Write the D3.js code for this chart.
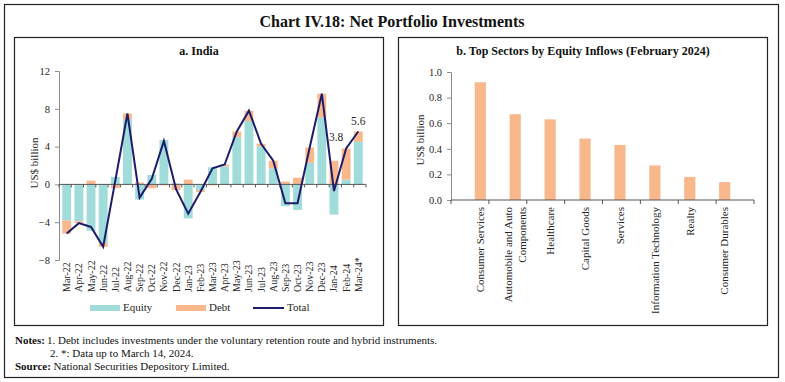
<!DOCTYPE html>
<html>
<head>
<meta charset="utf-8">
<script src="https://cdn.jsdelivr.net/npm/d3@7"></script>
<style>
  body { margin: 0; background: #fff; }
  svg { display: block; font-family: "Liberation Serif", "Times New Roman", serif; }
</style>
</head>
<body>
<div class="graph"></div>
<script>
// data
const months = ["Mar-22","Apr-22","May-22","Jun-22","Jul-22","Aug-22","Sep-22","Oct-22","Nov-22","Dec-22",
  "Jan-23","Feb-23","Mar-23","Apr-23","May-23","Jun-23","Jul-23","Aug-23","Sep-23","Oct-23","Nov-23","Dec-23",
  "Jan-24","Feb-24","Mar-24*"]
const equity = [-3.8,-3.9,-4.9,-6.2,0.8,6.9,-1.6,1.0,4.7,0.1,-3.6,-0.6,1.8,1.9,5.0,6.7,4.0,1.7,-2.3,-2.7,2.3,7.1,-3.2,0.5,4.5]
const debt = [-1.4,-0.2,0.4,-0.4,-0.4,0.6,0.2,-0.4,-0.1,-0.6,0.5,-0.2,-0.1,0.2,0.6,1.1,0.3,0.8,0.3,0.7,1.6,2.5,2.5,3.3,1.1]
const total = [-5.2,-4.1,-4.5,-6.6,0.4,7.5,-1.4,0.6,4.6,-0.5,-3.1,-0.8,1.7,2.1,5.6,7.8,4.3,2.5,-2.0,-2.0,3.9,9.6,-0.7,3.8,5.6]
const leftTicks = [-8,-4,0,4,8,12]

const sectors = ["Consumer Services","Automobile and Auto|Components","Healthcare","Capital Goods","Services",
  "Information Technology","Realty","Consumer Durables"]
const sectorValues = [0.92,0.67,0.63,0.48,0.43,0.27,0.18,0.14]
const rightTicks = [0,0.2,0.4,0.6,0.8,1.0]

const teal = "#a0dcda", peach = "#f9b88c", navy = "#1d1c6b", axisCol = "#8c8c8c", txt = "#262626"

let svg = d3.select('.graph')
  .append('svg')
  .attr("width", 785)
  .attr("height", 382)

// frames
svg.append("rect").attr("x",4.5).attr("y",4.5).attr("width",774).attr("height",373)
  .attr("fill","none").attr("stroke","#222").attr("stroke-width",1.2)
svg.append("rect").attr("x",14.5).attr("y",37.5).attr("width",369).attr("height",288)
  .attr("fill","none").attr("stroke","#222").attr("stroke-width",1.2)
svg.append("rect").attr("x",398.5).attr("y",37.5).attr("width",369).attr("height",288)
  .attr("fill","none").attr("stroke","#222").attr("stroke-width",1.2)

svg.append("text").attr("x",392).attr("y",23).attr("text-anchor","middle").attr("dominant-baseline","middle")
  .attr("font-size",16).attr("font-weight","bold").attr("fill","#111").text("Chart IV.18: Net Portfolio Investments")
svg.append("text").attr("x",199).attr("y",52).attr("text-anchor","middle").attr("dominant-baseline","middle")
  .attr("font-size",12).attr("font-weight","bold").attr("fill","#111").text("a. India")
svg.append("text").attr("x",583).attr("y",52).attr("text-anchor","middle").attr("dominant-baseline","middle")
  .attr("font-size",12).attr("font-weight","bold").attr("fill","#111").text("b. Top Sectors by Equity Inflows (February 2024)")

// ---------- left chart ----------
let x = d3.scaleBand().domain(months).range([59, 366]).padding(0.27)
let y = d3.scaleLinear().domain([-8, 12]).range([260, 71])

let rows = months.map((m, i) => ({month: m, equity: equity[i], debt: debt[i]}))
let series = d3.stack().keys(["equity","debt"]).offset(d3.stackOffsetDiverging)(rows)
let colour = {equity: teal, debt: peach}

svg.append("g").selectAll("g")
  .data(series)
  .enter()
  .append("g")
  .attr("fill", d => colour[d.key])
  .selectAll("rect")
  .data(d => d)
  .enter()
  .append("rect")
  .attr("x", d => x(d.data.month))
  .attr("width", x.bandwidth())
  .attr("y", d => y(Math.max(d[0], d[1])))
  .attr("height", d => Math.abs(y(d[0]) - y(d[1])))

// y axis
let yAxis = svg.append("g").attr("transform","translate(59,0)")
  .call(d3.axisLeft(y).tickValues(leftTicks).tickSize(4).tickPadding(5))
yAxis.select(".domain").attr("stroke", axisCol)
yAxis.selectAll(".tick line").attr("stroke", axisCol)
yAxis.selectAll("text").attr("font-size",10.5).attr("fill",txt).attr("font-family","Liberation Serif")

// zero line with category ticks
svg.append("line").attr("x1",59).attr("x2",366).attr("y1",y(0)).attr("y2",y(0)).attr("stroke","#555")
svg.append("g").selectAll("line")
  .data(months.concat(["end"]))
  .enter()
  .append("line")
  .attr("x1", (d, i) => x.range()[0] + i * (x.range()[1] - x.range()[0]) / months.length)
  .attr("x2", (d, i) => x.range()[0] + i * (x.range()[1] - x.range()[0]) / months.length)
  .attr("y1", y(0)).attr("y2", y(0) + 3)
  .attr("stroke", "#555")

// month labels at bottom
svg.append("g").selectAll("text")
  .data(months)
  .enter()
  .append("text")
  .attr("transform", d => `translate(${x(d) + x.bandwidth()/2 + 3.5},292) rotate(-90)`)
  .attr("text-anchor","start")
  .attr("font-size",10)
  .attr("fill",txt)
  .text(d => d)

// total line
let line = d3.line()
  .x((d, i) => x(months[i]) + x.bandwidth()/2)
  .y(d => y(d))
svg.append("path").datum(total).attr("d", line)
  .attr("fill","none").attr("stroke",navy).attr("stroke-width",2)

// value labels for last two points
svg.append("text").attr("x", x("Feb-24") + x.bandwidth()/2 - 10).attr("y", y(total[23]) - 10)
  .attr("text-anchor","middle").attr("dominant-baseline","middle").attr("font-size",11.5).attr("fill",txt)
  .text(total[23].toFixed(1))
svg.append("text").attr("x", x("Mar-24*") + x.bandwidth()/2).attr("y", y(total[24]) - 9.5)
  .attr("text-anchor","middle").attr("dominant-baseline","middle").attr("font-size",11.5).attr("fill",txt)
  .text(total[24].toFixed(1))

svg.append("text").attr("transform","translate(35,163) rotate(-90)").attr("text-anchor","middle")
  .attr("dominant-baseline","middle").attr("font-size",11).attr("fill",txt).text("US$ billion")

// legend
let legend = svg.append("g")
legend.append("rect").attr("x",90).attr("y",305).attr("width",30).attr("height",6).attr("fill",teal)
legend.append("text").attr("x",123).attr("y",308).attr("dominant-baseline","middle").attr("font-size",11).attr("fill",txt).text("Equity")
legend.append("rect").attr("x",176).attr("y",305).attr("width",30).attr("height",6).attr("fill",peach)
legend.append("text").attr("x",209).attr("y",308).attr("dominant-baseline","middle").attr("font-size",11).attr("fill",txt).text("Debt")
legend.append("line").attr("x1",253).attr("x2",284).attr("y1",308).attr("y2",308).attr("stroke",navy).attr("stroke-width",2)
legend.append("text").attr("x",287).attr("y",308).attr("dominant-baseline","middle").attr("font-size",11).attr("fill",txt).text("Total")

// ---------- right chart ----------
let x2 = d3.scaleBand().domain(sectors).range([451, 754]).padding(0.68)
let y2 = d3.scaleLinear().domain([0, 1]).range([200, 72])

svg.append("g").selectAll("rect")
  .data(sectors)
  .enter()
  .append("rect")
  .attr("x", d => x2(d))
  .attr("width", x2.bandwidth())
  .attr("y", (d, i) => y2(sectorValues[i]))
  .attr("height", (d, i) => y2(0) - y2(sectorValues[i]))
  .attr("fill", peach)

let y2Axis = svg.append("g").attr("transform","translate(451,0)")
  .call(d3.axisLeft(y2).tickValues(rightTicks).tickFormat(d3.format(".1f")).tickSize(4).tickPadding(5))
y2Axis.select(".domain").attr("stroke", axisCol)
y2Axis.selectAll(".tick line").attr("stroke", axisCol)
y2Axis.selectAll("text").attr("font-size",10.5).attr("fill",txt).attr("font-family","Liberation Serif")

svg.append("line").attr("x1",451).attr("x2",754).attr("y1",y2(0)).attr("y2",y2(0)).attr("stroke","#555")
svg.append("g").selectAll("line")
  .data(sectors.concat(["end"]))
  .enter()
  .append("line")
  .attr("x1", (d, i) => 451 + i * (754 - 451) / sectors.length)
  .attr("x2", (d, i) => 451 + i * (754 - 451) / sectors.length)
  .attr("y1", y2(0)).attr("y2", y2(0) + 4)
  .attr("stroke", "#555")

// sector labels, rotated, split on |
sectors.forEach(s => {
  let parts = s.split("|")
  let cx = x2(s) + x2.bandwidth()/2
  parts.forEach((p, j) => {
    let off = (j - (parts.length - 1)/2) * 13.5
    svg.append("text")
      .attr("transform", `translate(${cx + off + 3.8},207) rotate(-90)`)
      .attr("text-anchor","end")
      .attr("font-size",11)
      .attr("fill",txt)
      .text(p)
  })
})

svg.append("text").attr("transform","translate(421,140) rotate(-90)").attr("text-anchor","middle")
  .attr("dominant-baseline","middle").attr("font-size",11).attr("fill",txt).text("US$ billion")

// notes
let notes = svg.append("g").attr("font-size",11).attr("fill","#111")
notes.append("text").attr("x",15).attr("y",344).attr("font-weight","bold").text("Notes:")
notes.append("text").attr("x",47).attr("y",344).text("1. Debt includes investments under the voluntary retention route and hybrid instruments.")
notes.append("text").attr("x",50).attr("y",357).text("2. *: Data up to March 14, 2024.")
let n3 = notes.append("text").attr("x",15).attr("y",370)
n3.append("tspan").attr("font-weight","bold").text("Source:")
n3.append("tspan").text(" National Securities Depository Limited.")
</script>
</body>
</html>
